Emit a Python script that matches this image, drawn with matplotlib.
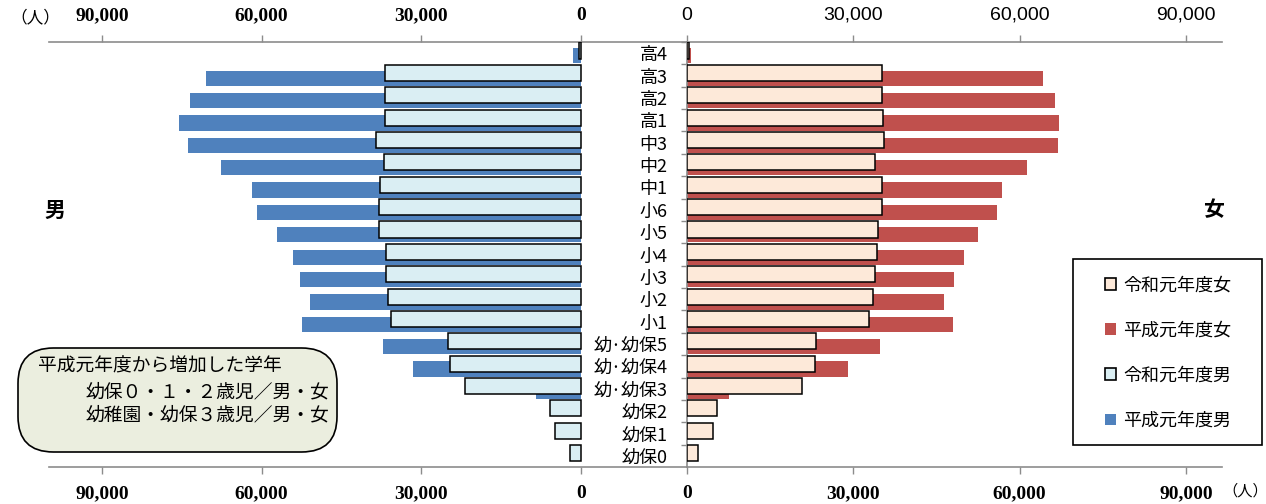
import matplotlib
matplotlib.use("Agg")
import matplotlib.pyplot as plt
from matplotlib.patches import Patch, Rectangle, FancyBboxPatch
from matplotlib.ticker import FuncFormatter, FixedLocator

plt.rcParams['font.family'] = ['Noto Sans CJK JP', 'DejaVu Sans']

# data
grades = ['高4', '高3', '高2', '高1', '中3', '中2', '中1', '小6', '小5', '小4', '小3',
          '小2', '小1', '幼·幼保5', '幼·幼保4', '幼·幼保3', '幼保2', '幼保1', '幼保0']
h1_male = [1500, 70400, 73400, 75500, 73800, 67700, 61900, 60800, 57200, 54200, 52800,
           50900, 52500, 37100, 31500, 8400, 0, 0, 0]
r1_male = [300, 36800, 36800, 36800, 38500, 37000, 37700, 38000, 38000, 36700, 36700,
           36200, 35600, 25000, 24500, 21800, 5850, 4900, 2000]
h1_female = [700, 64300, 66300, 67100, 66900, 61400, 56800, 55900, 52500, 49900, 48100,
             46400, 47900, 34800, 29100, 7600, 0, 0, 0]
r1_female = [300, 35100, 35100, 35300, 35600, 33900, 35100, 35100, 34500, 34300, 33900,
             33600, 32800, 23300, 23000, 20700, 5400, 4600, 1900]
xticks = [0, 30000, 60000, 90000]

blue = '#4F81BD'
red = '#C0504D'
lblue = '#DAEEF3'
peach = '#FDE9D9'
axcol = '#8C8C8C'

W, H = 1266, 504
fig = plt.figure(figsize=(W / 100, H / 100), dpi=100)

def fx(px):
    return px / W

def fy(py):
    return 1 - py / H

y0 = fy(467)
hgt = (467 - 42) / H
axl = fig.add_axes([fx(49), y0, fx(687 - 49), hgt])
axr = fig.add_axes([fx(687), y0, fx(1222 - 687), hgt])

pos = list(range(len(grades)))
h_pos = [p + 0.12 for p in pos]
r_pos = [p - 0.12 for p in pos]

axl.barh(h_pos, h1_male, height=0.68, color=blue, zorder=2)
axl.barh(r_pos, r1_male, height=0.72, color=lblue, edgecolor='black', linewidth=1.1, zorder=3)
axr.barh(h_pos, h1_female, height=0.68, color=red, zorder=2)
axr.barh(r_pos, r1_female, height=0.72, color=peach, edgecolor='black', linewidth=1.1, zorder=3)

axl.set_xlim(100000, -20000)
axr.set_xlim(0, 96500)

fmt = FuncFormatter(lambda v, p: '{:,.0f}'.format(v))
serif_bold = dict(family='Liberation Serif', weight='bold', size=14)
narrow = dict(family=['Liberation Sans Narrow', 'Liberation Sans'], size=14)

for ax in (axl, axr):
    ax.set_ylim(len(grades) - 0.5, -0.5)
    ax.xaxis.set_major_locator(FixedLocator(xticks))
    ax.xaxis.set_major_formatter(fmt)
    ax.tick_params(axis='x', top=True, labeltop=True, bottom=True, labelbottom=True,
                   length=5, width=1, color=axcol, pad=8)
    for s in ('left', 'right'):
        ax.spines[s].set_visible(False)
    for s in ('top', 'bottom'):
        ax.spines[s].set_color(axcol)
        ax.spines[s].set_linewidth(1.2)
    ax.set_facecolor('none')

axl.set_yticks([])
for t in axl.xaxis.get_major_ticks():
    t.label1.set(**serif_bold)
    t.label2.set(**serif_bold)
for t in axr.xaxis.get_major_ticks():
    t.label1.set(**serif_bold)
    t.label2.set(**narrow)

# category labels on the right chart's vertical axis
axr.spines['left'].set_visible(True)
axr.spines['left'].set_color(axcol)
axr.spines['left'].set_linewidth(1.2)
axr.set_yticks(pos)
axr.set_yticklabels(grades, fontsize=13)
axr.set_yticks([p + 0.5 for p in pos[:-1]] + [-0.5], minor=True)
axr.tick_params(axis='y', which='major', length=0, pad=14)
axr.tick_params(axis='y', which='minor', length=4, width=1, color=axcol)

# unit labels and side titles
fig.text(fx(10), fy(18), '（人）', fontsize=12, va='center', ha='left')
fig.text(fx(1222), fy(491), '（人）', fontsize=11, va='center', ha='left')
fig.text(fx(55), fy(210), '男', fontsize=15, weight='bold', va='center', ha='center')
fig.text(fx(1213), fy(210), '女', fontsize=15, weight='bold', va='center', ha='center')

# legend with a hand-drawn frame
fig.add_artist(Rectangle((fx(1073), fy(445)), fx(1262 - 1073), (445 - 259) / H,
                         transform=fig.transFigure, facecolor='white',
                         edgecolor='black', linewidth=1.2))
handles = [Patch(facecolor=peach, edgecolor='black', linewidth=1.2),
           Patch(facecolor=red),
           Patch(facecolor=lblue, edgecolor='black', linewidth=1.2),
           Patch(facecolor=blue)]
labels = ['令和元年度女', '平成元年度女', '令和元年度男', '平成元年度男']
fig.legend(handles, labels, loc='center', bbox_to_anchor=(fx(1168), fy(353)),
           frameon=False, fontsize=13, handlelength=0.6, handleheight=0.6,
           handletextpad=0.4, labelspacing=1.5)

# note box
fig.add_artist(FancyBboxPatch((fx(18), fy(452)), fx(337 - 18), (452 - 348) / H,
                              boxstyle='round,pad=0,rounding_size=0.028',
                              transform=fig.transFigure, facecolor='#EBEEDF',
                              edgecolor='black', linewidth=1.2, mutation_aspect=W / H))
fig.text(fx(38), fy(366), '平成元年度から増加した学年', fontsize=13.5, va='center')
fig.text(fx(86), fy(392), '幼保０・１・２歳児／男・女', fontsize=13.5, va='center')
fig.text(fx(86), fy(415), '幼稚園・幼保３歳児／男・女', fontsize=13.5, va='center')

fig.savefig('out.png', dpi=100)
